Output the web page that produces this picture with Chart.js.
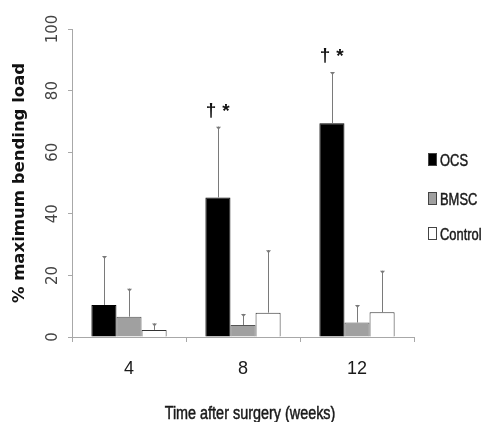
<!DOCTYPE html>
<html>
<head>
<meta charset="utf-8">
<script src="https://cdn.jsdelivr.net/npm/chart.js@4/dist/chart.umd.min.js"></script>
<style>
    html, body { margin: 0; padding: 0; background: #fff; }
    #wrap { position: relative; width: 486px; height: 422px; }
</style>
</head>
<body>
<div id="wrap"><canvas id="chart" width="486" height="422"></canvas></div>
<script>
// data
const weeks = ['4', '8', '12']
const groupNames = ['OCS', 'BMSC', 'Control']
const ocsMean = [10.4, 45.3, 69.4]
const ocsSD = [15.9, 23.0, 16.6]
const bmscMean = [6.6, 3.9, 4.7]
const bmscSD = [9.1, 3.6, 5.7]
const controlMean = [2.3, 7.9, 8.0]
const controlSD = [2.1, 20.3, 13.5]
const yTicks = [0, 20, 40, 60, 80, 100]
// significance marks above the OCS bars
const marks = ['', '†*', '†*']
const xTitle = 'Time after surgery (weeks)'
const yTitle = '% maximum bending load'

const sans = '"Liberation Sans", Arial, sans-serif'

function makeSet(label, data, sd, fill, border) {
    return {
        label: label,
        data: data,
        sd: sd,
        backgroundColor: fill,
        borderColor: border,
        borderWidth: 1,
        barPercentage: 1.0,
        categoryPercentage: 0.66
    }
}

// draws text squeezed horizontally (the original uses a narrow font)
function narrowText(ctx, text, x, y, size, squeeze, align) {
    ctx.save()
    ctx.font = size + 'px ' + sans
    ctx.textAlign = align
    ctx.textBaseline = 'alphabetic'
    ctx.translate(x, y)
    ctx.scale(squeeze, 1)
    ctx.fillText(text, 0, 0)
    // a touch heavier, like the original lettering
    ctx.lineWidth = 0.5
    ctx.strokeStyle = ctx.fillStyle
    ctx.strokeText(text, 0, 0)
    ctx.restore()
}

// error bars (upper only) + the †* marks
const errorBars = {
    id: 'errorBars',
    afterDatasetsDraw(chart) {
        let ctx = chart.ctx
        let y = chart.scales.y
        ctx.save()
        chart.data.datasets.forEach(function(ds, i) {
            let meta = chart.getDatasetMeta(i)
            meta.data.forEach(function(bar, j) {
                let top = y.getPixelForValue(ds.data[j] + ds.sd[j])
                let x = Math.round(bar.x) + 0.5
                ctx.strokeStyle = '#7a7a7a'
                ctx.lineWidth = 1
                ctx.beginPath()
                ctx.moveTo(x, bar.y)
                ctx.lineTo(x, top)
                ctx.stroke()
                ctx.fillStyle = '#7a7a7a'
                ctx.beginPath()
                ctx.moveTo(x - 2.5, top)
                ctx.lineTo(x + 2.5, top)
                ctx.lineTo(x, top + 3)
                ctx.closePath()
                ctx.fill()

                if (i === 0 && marks[j]) {
                    ctx.fillStyle = '#111'
                    ctx.font = 'bold 19px ' + sans
                    ctx.textAlign = 'center'
                    ctx.textBaseline = 'middle'
                    ctx.fillText(marks[j][0], bar.x - 7, top - 16)
                    ctx.fillText(marks[j][1], bar.x + 8, top - 15)
                }
            })
        })
        ctx.restore()
    }
}

// legend at the right and the x title, both in the narrow lettering
const sideLegend = {
    id: 'sideLegend',
    afterDraw(chart) {
        let ctx = chart.ctx
        let rows = [159.5, 198.5, 233.5]
        ctx.save()
        chart.data.datasets.forEach(function(ds, i) {
            let cy = rows[i]
            ctx.fillStyle = ds.backgroundColor
            ctx.fillRect(428.5, cy - 6, 8, 12)
            ctx.strokeStyle = '#444'
            ctx.lineWidth = 1
            ctx.strokeRect(428.5, cy - 6, 8, 12)
            ctx.fillStyle = '#1a1a1a'
            narrowText(ctx, ds.label, 440, cy + 6.5, 17, 0.76, 'left')
        })
        ctx.fillStyle = '#1a1a1a'
        narrowText(ctx, xTitle, 250, 419, 18, 0.8, 'center')
        ctx.restore()
    }
}

new Chart(document.getElementById('chart'), {
    type: 'bar',
    data: {
        labels: weeks,
        datasets: [
            makeSet(groupNames[0], ocsMean, ocsSD, '#000000', '#000000'),
            makeSet(groupNames[1], bmscMean, bmscSD, '#a0a0a0', '#555555'),
            makeSet(groupNames[2], controlMean, controlSD, '#ffffff', '#333333')
        ]
    },
    options: {
        responsive: false,
        animation: false,
        layout: { padding: { top: 29, right: 72, bottom: 0, left: 0 } },
        plugins: {
            legend: { display: false },
            tooltip: { enabled: false }
        },
        scales: {
            x: {
                border: { color: '#a8a8a8', width: 1 },
                grid: { display: true, drawOnChartArea: false, tickLength: 5, color: '#a8a8a8' },
                ticks: { color: '#1a1a1a', font: { family: sans, size: 18 }, padding: 16 },
                title: { display: false, text: xTitle },
                afterFit(scale) { scale.height = 85 }
            },
            y: {
                min: 0,
                max: 100,
                afterBuildTicks(scale) { scale.ticks = yTicks.map(v => ({ value: v })) },
                border: { color: '#a8a8a8', width: 1 },
                grid: { display: true, drawOnChartArea: false, tickLength: 4, color: '#a8a8a8' },
                ticks: {
                    color: '#444',
                    font: { family: '"DejaVu Sans", sans-serif', size: 15 },
                    minRotation: 90,
                    maxRotation: 90,
                    crossAlign: 'center',
                    padding: 1
                },
                title: {
                    display: true,
                    text: yTitle,
                    color: '#111',
                    font: { family: '"DejaVu Sans", sans-serif', size: 16.5, weight: 'bold' },
                    padding: { top: 10, bottom: 0 }
                },
                afterFit(scale) { scale.width = 72 }
            }
        }
    },
    plugins: [errorBars, sideLegend]
})
</script>
</body>
</html>
